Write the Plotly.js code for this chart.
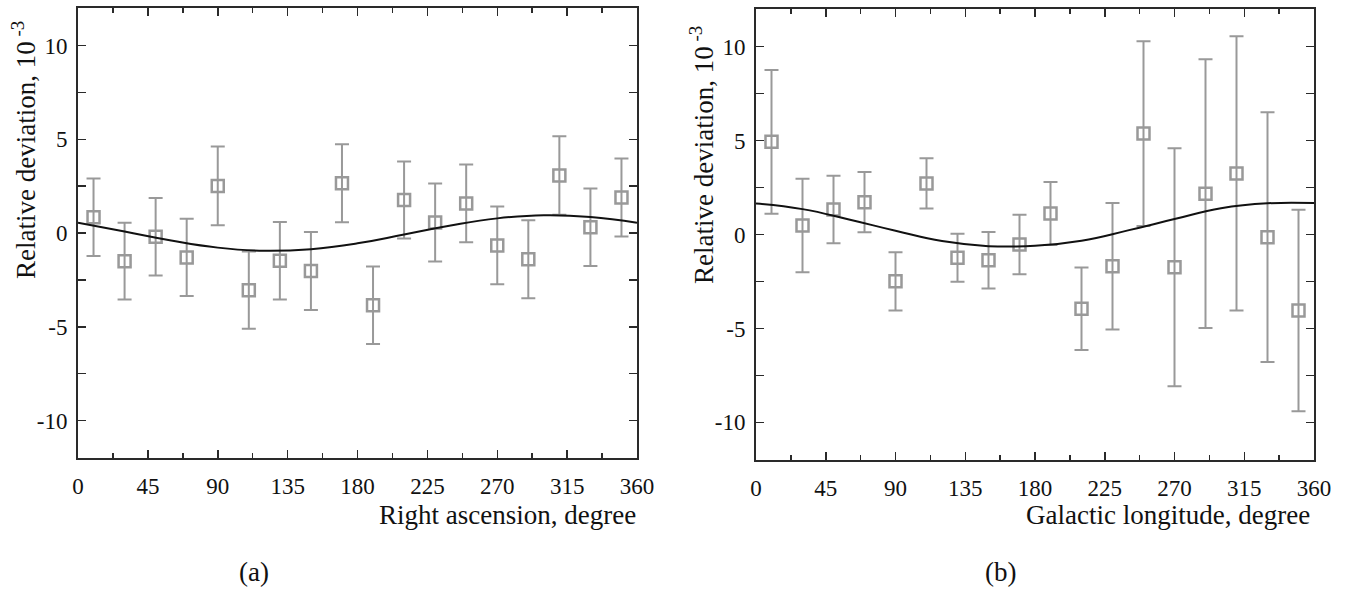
<!DOCTYPE html>
<html>
<head>
<meta charset="utf-8">
<script src="https://cdn.plot.ly/plotly-3.0.1.min.js"></script>
<style>html,body{margin:0;padding:0;background:#fff;}#chart{width:1359px;height:591px;}</style>
</head>
<body>
<div id="chart"></div>
<script>
// ---- data ----
const angles = [10,30,50,70,90,110,130,150,170,190,210,230,250,270,290,310,330,350];

// (a) Right ascension
const raValues = [0.84,-1.50,-0.20,-1.30,2.51,-3.05,-1.48,-2.02,2.66,-3.85,1.76,0.56,1.58,-0.66,-1.40,3.07,0.31,1.90];
const raErrors = [2.07,2.05,2.07,2.06,2.10,2.06,2.07,2.08,2.08,2.07,2.05,2.08,2.07,2.07,2.08,2.09,2.07,2.08];
const raFitX = [0,30,60,90,120,150,180,210,240,270,300,330,360];
const raFitY = [0.55,0.08,-0.40,-0.78,-0.95,-0.86,-0.55,-0.08,0.40,0.78,0.95,0.86,0.55];

// (b) Galactic longitude
const glValues = [4.93,0.48,1.33,1.72,-2.49,2.72,-1.24,-1.37,-0.53,1.12,-3.95,-1.69,5.37,-1.74,2.17,3.25,-0.14,-4.04];
const glErrors = [3.83,2.49,1.80,1.60,1.55,1.34,1.28,1.50,1.58,1.68,2.20,3.36,4.92,6.33,7.15,7.30,6.64,5.36];
const glFitX = [0,30,60,90,120,150,180,210,240,270,300,330,360];
const glFitY = [1.65,1.35,0.80,0.20,-0.35,-0.62,-0.60,-0.33,0.22,0.82,1.40,1.66,1.67];

const xTicks = [0,45,90,135,180,225,270,315,360];
const yTicks = [-10,-5,0,5,10];

const labels = {
  yTitle: 'Relative deviation, 10<sup> -3</sup>',
  xTitleA: 'Right ascension, degree',
  xTitleB: 'Galactic longitude, degree',
  panelA: '(a)',
  panelB: '(b)'
};

// ---- styles ----
const grey = '#999999';
const axisCol = '#2a2a2a';
const FONT = 'Liberation Serif';
const W = 1359, H = 591;
const px = x => x / W;
const py = y => 1 - y / H;

function points(x, y, err, xa, ya) {
  return {
    x: x, y: y, xaxis: xa, yaxis: ya, type: 'scatter', mode: 'markers',
    marker: {symbol: 'square-open', size: 12, color: grey, line: {width: 2.5, color: grey}},
    error_y: {type: 'data', array: err, visible: true, color: grey, thickness: 2, width: 7},
    hoverinfo: 'skip', showlegend: false
  };
}
function fit(x, y, xa, ya) {
  return {
    x: x, y: y, xaxis: xa, yaxis: ya, type: 'scatter', mode: 'lines',
    line: {color: '#111111', width: 2, shape: 'spline', smoothing: 1.3},
    hoverinfo: 'skip', showlegend: false
  };
}

const traces = [
  points(angles, raValues, raErrors, 'x', 'y'),
  fit(raFitX, raFitY, 'x', 'y'),
  points(angles, glValues, glErrors, 'x2', 'y2'),
  fit(glFitX, glFitY, 'x2', 'y2')
];

function xAxis(domain, anchor) {
  return {
    domain: domain, anchor: anchor, range: [0, 360], tickmode: 'array', tickvals: xTicks,
    ticks: 'inside', ticklen: 8, tickwidth: 1.5, tickcolor: axisCol,
    minor: {dtick: 22.5, tick0: 0, ticks: 'inside', ticklen: 5, tickwidth: 1.5, tickcolor: axisCol},
    showline: true, linecolor: axisCol, linewidth: 2, mirror: 'ticks',
    showgrid: false, zeroline: false,
    tickfont: {family: FONT, size: 23, color: '#111'}, ticklabelstandoff: 6
  };
}
function yAxis(domain, anchor) {
  return {
    domain: domain, anchor: anchor, range: [-12, 12], tickmode: 'array', tickvals: yTicks,
    ticktext: yTicks.map(String),
    ticks: 'inside', ticklen: 8, tickwidth: 1.5, tickcolor: axisCol,
    minor: {dtick: 2.5, tick0: 0, ticks: 'inside', ticklen: 8, tickwidth: 1.5, tickcolor: axisCol},
    showline: true, linecolor: axisCol, linewidth: 2, mirror: 'ticks',
    showgrid: false, zeroline: false,
    tickfont: {family: FONT, size: 23, color: '#111'}, ticklabelstandoff: 4
  };
}

const ann = (text, x, y, opts) => Object.assign({
  text: text, xref: 'paper', yref: 'paper', x: x, y: y, showarrow: false,
  font: {family: FONT, size: 27, color: '#111'}
}, opts || {});

const layout = {
  width: W, height: H, margin: {l: 0, r: 0, t: 0, b: 0},
  paper_bgcolor: '#fff', plot_bgcolor: '#fff',
  font: {family: FONT},
  xaxis: xAxis([px(78), px(637)], 'y'),
  yaxis: yAxis([py(458), py(8)], 'x'),
  xaxis2: xAxis([px(756), px(1314)], 'y2'),
  yaxis2: yAxis([py(460), py(9)], 'x2'),
  annotations: [
    ann(labels.yTitle, px(24), py(150), {textangle: -90, xanchor: 'center', yanchor: 'middle'}),
    ann(labels.yTitle, px(702), py(155), {textangle: -90, xanchor: 'center', yanchor: 'middle'}),
    ann(labels.xTitleA, px(638), py(515), {xanchor: 'right', yanchor: 'middle'}),
    ann(labels.xTitleB, px(1312), py(515), {xanchor: 'right', yanchor: 'middle'}),
    ann(labels.panelA, px(254), py(572), {xanchor: 'center', yanchor: 'middle'}),
    ann(labels.panelB, px(1000), py(572), {xanchor: 'center', yanchor: 'middle'})
  ]
};

Plotly.newPlot('chart', traces, layout, {displayModeBar: false, staticPlot: true});
</script>
</body>
</html>
